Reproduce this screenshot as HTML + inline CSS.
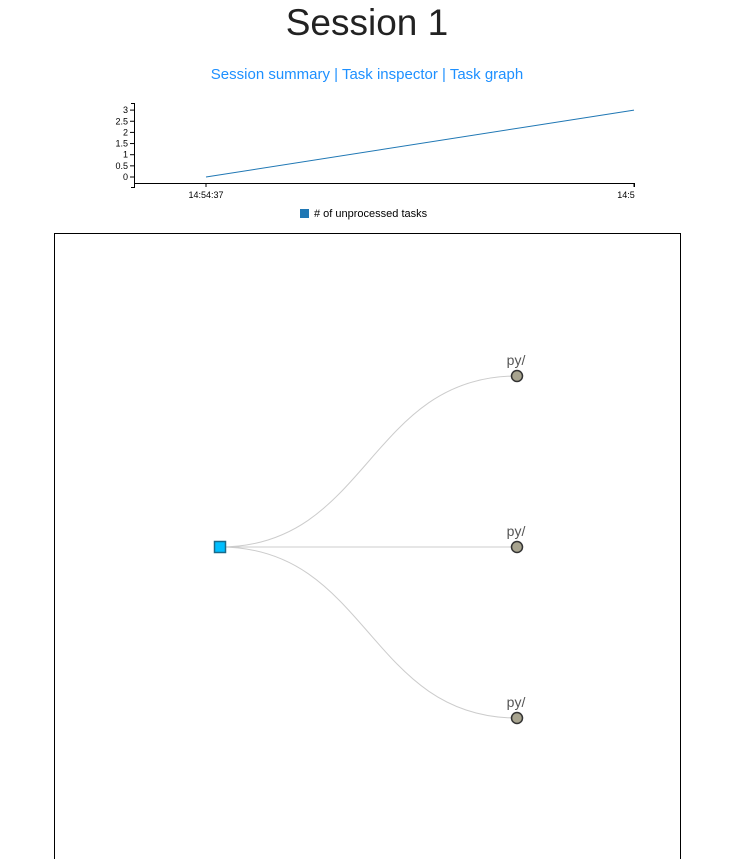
<!DOCTYPE html>
<html><head><meta charset="utf-8"><style>
body{margin:0;width:740px;height:859px;overflow:hidden;background:#fff;font-family:"Liberation Sans",sans-serif;position:relative}
h1{position:absolute;top:1px;left:0;width:734px;margin:0;text-align:center;font-weight:normal;font-size:37px;line-height:44px;color:#222}
.links{position:absolute;top:66px;left:0;width:734px;text-align:center;font-size:15px;color:#1e90ff}
.links a{color:#1e90ff;text-decoration:none}
svg{position:absolute;left:0;top:0}
</style></head><body>
<h1>Session 1</h1>
<div class="links"><a>Session summary</a> | <a>Task inspector</a> | <a>Task graph</a></div>
<svg id="chart" width="740" height="230"></svg>
<svg id="graph" width="740" height="859">
<rect x="54.5" y="233.5" width="626" height="640" fill="#fff" stroke="#000"/>
</svg>
<script>
const times=["14:54:37","14:5"];
const values=[0,3];
const yTicks=[0,0.5,1,1.5,2,2.5,3];
const NS="http://www.w3.org/2000/svg";
function mk(p,t,a){const e=document.createElementNS(NS,t);for(const k in a)e.setAttribute(k,a[k]);p.appendChild(e);return e;}
const c=document.getElementById('chart');
const xs=i=>206+i*(634-206)/(times.length-1);
const ys=v=>177-v*22.3;
let ax=mk(c,'path',{d:'M131,103.5H134.5V187.5H131',fill:'none',stroke:'#000'});

yTicks.forEach(v=>{const y=ys(v);
 let l=mk(c,'line',{x1:130,x2:134,y1:y,y2:y,stroke:'#000'});
 
 let t=mk(c,'text',{x:128,y:y+3,'text-anchor':'end','font-size':9,fill:'#000'});t.textContent=v;
 });
let xa=mk(c,'path',{d:'M134.5,187V183.5H634.5V187',fill:'none',stroke:'#000'});

times.forEach((s,i)=>{const x=xs(i);
 let l=mk(c,'line',{x1:x,x2:x,y1:183,y2:187,stroke:'#000'});
 
 let t=mk(c,'text',{x:i==times.length-1?x-8:x,y:198,'text-anchor':'middle','font-size':9,fill:'#000'});t.textContent=s;
 });
let ln=mk(c,'polyline',{points:values.map((v,i)=>xs(i)+','+ys(v)).join(' '),fill:'none',stroke:'#1f77b4','stroke-width':1});

let lr=mk(c,'rect',{x:300,y:209,width:9,height:9,fill:'#1f77b4'});

let lt=mk(c,'text',{x:314,y:217,'font-size':11,fill:'#000'});lt.textContent='# of unprocessed tasks';


const g=document.getElementById('graph');
const children=["py/","py/","py/"];
const root={x:220,y:547};
const cy=i=>376+i*171;
children.forEach((n,i)=>{const x=517,y=cy(i),mx=(root.x+x)/2;
 let p=mk(g,'path',{d:`M${root.x},${root.y}C${mx},${root.y} ${mx},${y} ${x},${y}`,fill:'none',stroke:'#ccc','stroke-width':1});
 });
children.forEach((n,i)=>{const y=cy(i);
 let ci=mk(g,'circle',{cx:517,cy:y,r:5.5,fill:'#a8a48f',stroke:'#333','stroke-width':1.5});
 
 let t=mk(g,'text',{x:516,y:y-11,'text-anchor':'middle','font-size':14,fill:'#555'});t.textContent=n;
 });
let r=mk(g,'rect',{x:214.5,y:541.5,width:11,height:11,fill:'#00bfff',stroke:'#1a6a8a','stroke-width':1.5});

</script>
</body></html>
